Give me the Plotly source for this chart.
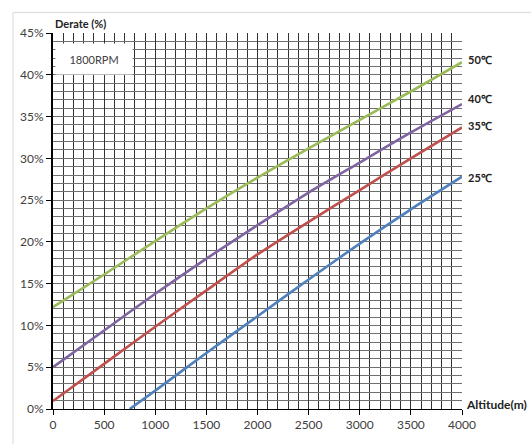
import plotly.graph_objects as go

# Data
altitude = [0, 500, 1000, 1500, 2000, 2500, 3000, 3500, 4000]
derate_50 = [12.2, 16.1, 20.1, 24.0, 27.7, 31.2, 34.6, 38.0, 41.5]
derate_40 = [5.0, 9.4, 13.8, 18.0, 22.0, 25.9, 29.5, 33.1, 36.5]
derate_35 = [0.95, 5.4, 9.85, 14.2, 18.5, 22.4, 26.2, 30.0, 33.7]
altitude_25 = [750, 1000, 1500, 2000, 2500, 3000, 3500, 4000]
derate_25 = [0.0, 2.2, 6.7, 11.1, 15.5, 19.8, 23.9, 27.8]

series = [
    ("50℃", altitude, derate_50, "#9BBB59"),
    ("40℃", altitude, derate_40, "#8064A2"),
    ("35℃", altitude, derate_35, "#C0504D"),
    ("25℃", altitude_25, derate_25, "#4F81BD"),
]
label_shift = {"50℃": 3, "40℃": 6, "35℃": 2, "25℃": -1}

FONT = "Lato, 'Open Sans', sans-serif"

fig = go.Figure()
for name, xs, ys, color in series:
    fig.add_trace(go.Scatter(x=xs, y=ys, mode="lines", name=name,
                             line=dict(color=color, width=2.6, shape="spline", smoothing=0.6),
                             showlegend=False, hoverinfo="skip"))
    fig.add_annotation(x=xs[-1], y=ys[-1], xref="x", yref="y", text="<b>%s</b>" % name,
                       showarrow=False, xanchor="left", yanchor="middle",
                       xshift=4, yshift=label_shift[name],
                       font=dict(family=FONT, size=11, color="#222"))

fig.update_xaxes(range=[0, 4000], dtick=500, tick0=0,
                 showgrid=True, gridcolor="#333333", gridwidth=1.2,
                 minor=dict(dtick=100, showgrid=True, gridcolor="#333333", gridwidth=1.2),
                 showline=True, linecolor="#000", linewidth=1,
                 ticks="outside", ticklen=5, tickcolor="#000",
                 tickfont=dict(family=FONT, size=12, color="#404040"),
                 zeroline=False, fixedrange=True)
fig.update_yaxes(range=[0, 45], dtick=5, tick0=0, ticksuffix="%",
                 showgrid=True, gridcolor="#707070", gridwidth=1,
                 minor=dict(dtick=1, showgrid=True, gridcolor="#707070", gridwidth=1),
                 showline=True, linecolor="#000", linewidth=2,
                 ticks="outside", ticklen=5, tickcolor="#000",
                 tickfont=dict(family=FONT, size=12, color="#404040"),
                 zeroline=False, fixedrange=True)

# 1800RPM label box
fig.add_annotation(x=0, y=43.8, xref="x", yref="y", text="1800RPM", showarrow=False,
                   xanchor="left", yanchor="top", xshift=2, width=74, height=28,
                   bgcolor="white", font=dict(family=FONT, size=11, color="#404040"))

# axis titles
fig.add_annotation(x=0, y=1, xref="paper", yref="paper", text="<b>Derate (%)</b>",
                   showarrow=False, xanchor="left", yanchor="bottom", yshift=1,
                   font=dict(family=FONT, size=11, color="#222"))
fig.add_annotation(x=1, y=0, xref="paper", yref="paper", text="<b>Altitude(m)</b>",
                   showarrow=False, xanchor="left", yanchor="middle", xshift=2, yshift=5,
                   font=dict(family=FONT, size=12, color="#222"))

# outer chart frame
fig.add_shape(type="rect", xref="paper", yref="paper",
              x0=-0.0978, x1=1.2, y0=-0.1, y1=1.0547,
              line=dict(color="#d9d9d9", width=1), fillcolor="rgba(0,0,0,0)", layer="below")

fig.update_layout(width=531, height=444,
                  margin=dict(l=53, r=69, t=33, b=27),
                  paper_bgcolor="white", plot_bgcolor="white",
                  font=dict(family=FONT))

fig.write_html("out.html", config={"displayModeBar": False},
               post_script="document.body.style.margin='0';document.body.style.overflow='hidden';")
